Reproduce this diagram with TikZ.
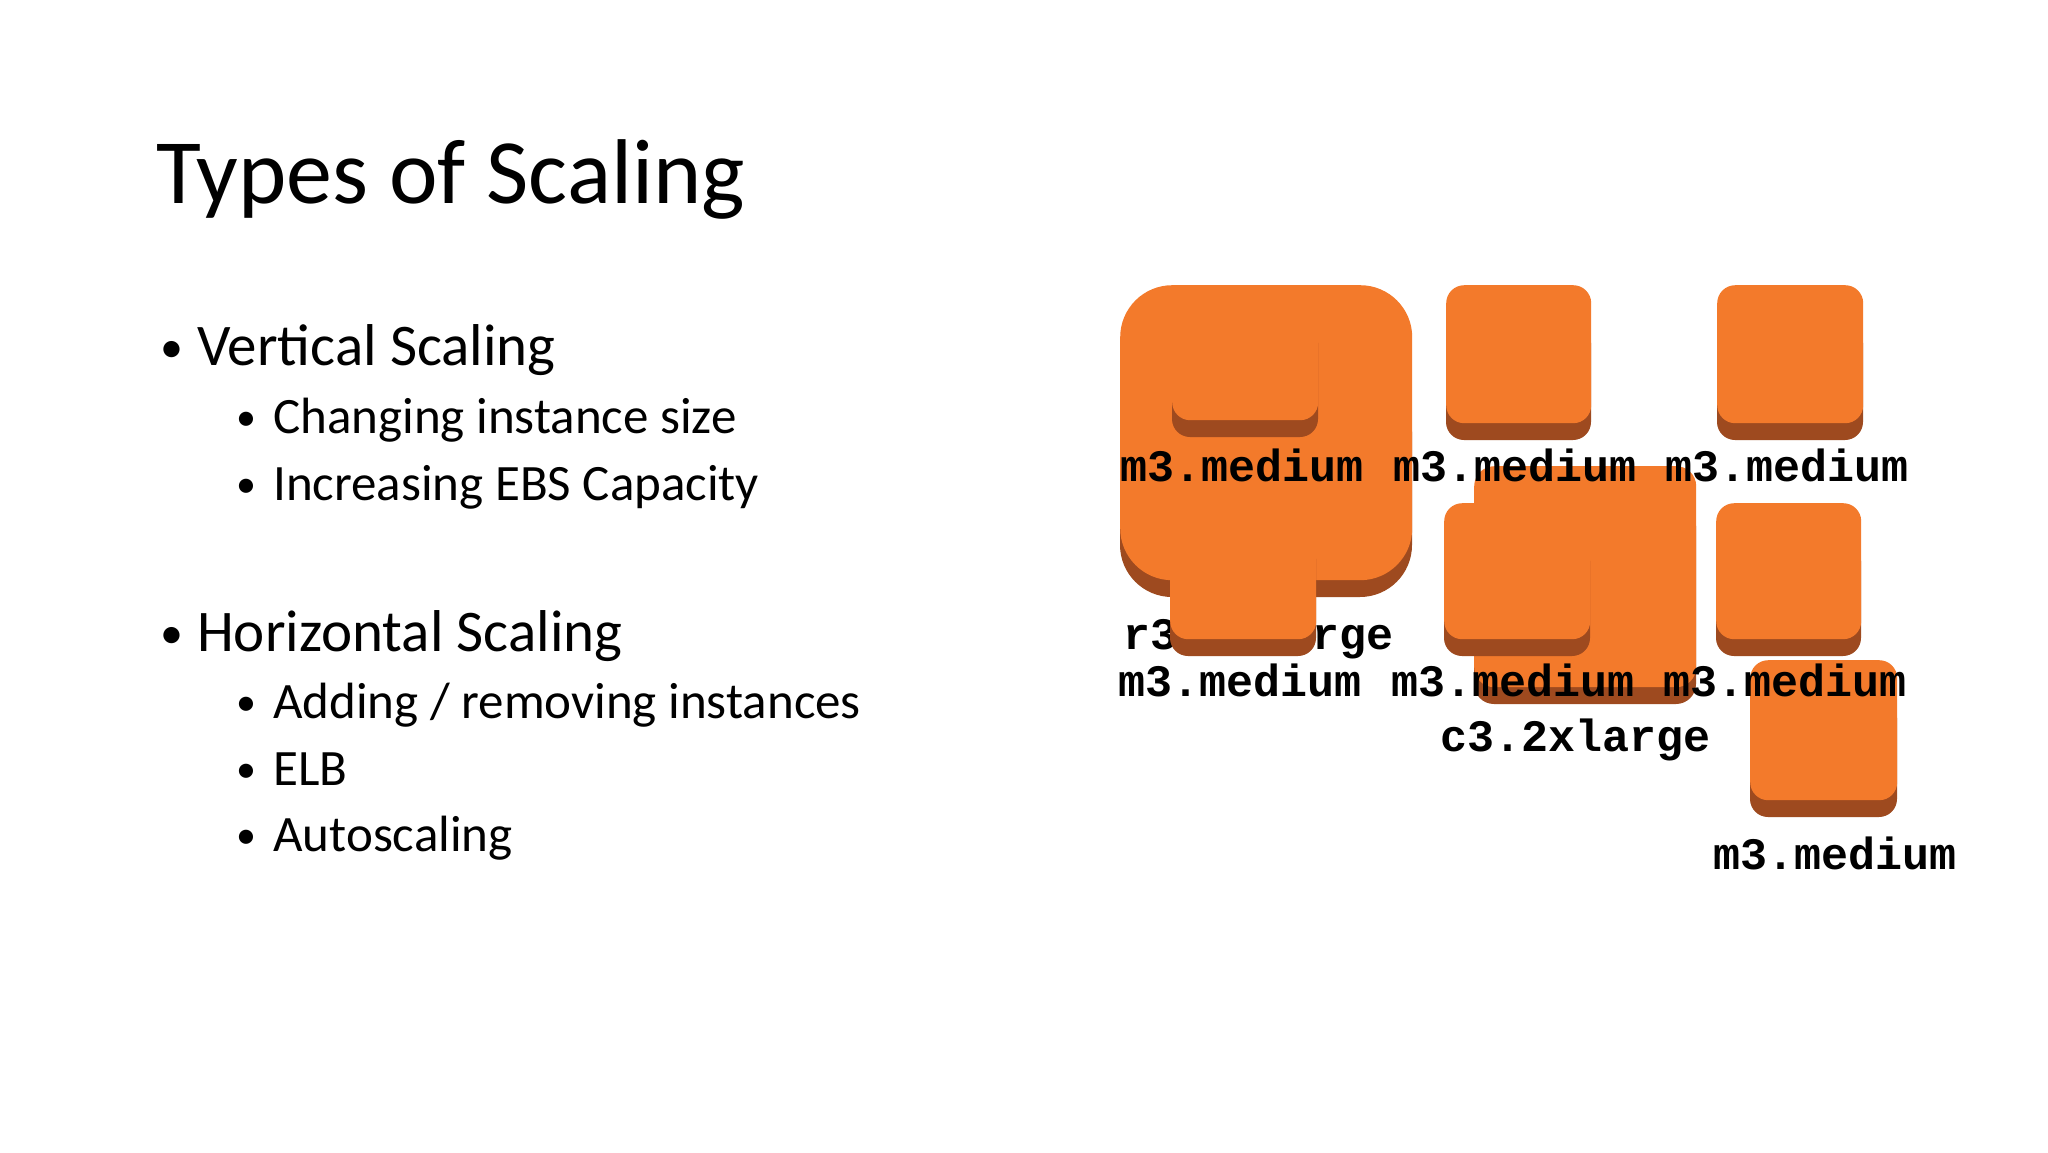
\documentclass[tikz,border=0pt]{standalone}
\usepackage{fontspec}
\setmainfont{Carlito}
\newfontfamily\monob{Liberation Mono}
\definecolor{awsor}{HTML}{F37A2B}
\definecolor{awssh}{HTML}{9E4A1F}
\newcommand\instbox[6]{%
  \fill[awssh,rounded corners=#6pt] (#2,#3+40) rectangle (#4,#5);
  \node[fill=awsor,rounded corners=#6pt,inner sep=0pt,minimum width=#4pt-#2pt,minimum height=#5pt-#3pt-17pt,anchor=north west] (#1) at (#2,#3) {};}
\tikzset{lbl/.style={font=\monob\fontsize{45}{45}\selectfont\bfseries,inner sep=0pt,anchor=base west},
 sub/.style={font=\fontsize{51}{55}\selectfont,inner sep=0pt,anchor=base west},
 top/.style={font=\fontsize{59}{62}\selectfont,inner sep=0pt,anchor=base west},
 subb/.style={font=\fontsize{40}{44}\selectfont,inner sep=0pt,anchor=base west},
 topb/.style={font=\fontsize{46}{50}\selectfont,inner sep=0pt,anchor=base west}}
\begin{document}
\begin{tikzpicture}[x=1pt,y=-1pt]
\useasboundingbox[fill=white] (0,0) rectangle (2048,1152);
\node[font=\fontsize{92}{96}\selectfont,inner sep=0pt,anchor=base west] (title) at (156,203) {Types of Scaling};
\node[topb] (b1) at (160,362) {•};
\node[top] (v) at (197,365) {Vertical Scaling};
\node[subb] (b2) at (236,430) {•}; \node[sub] (v1) at (273,433) {Changing instance size};
\node[subb] (b3) at (236,497) {•}; \node[sub] (v2) at (273,500) {Increasing EBS Capacity};
\node[topb] (b4) at (160,648) {•};
\node[top] (h) at (197,651) {Horizontal Scaling};
\node[subb] (b5) at (236,715) {•}; \node[sub] (h1) at (273,718) {Adding / removing instances};
\node[subb] (b6) at (236,782) {•}; \node[sub] (h2) at (273,785) {ELB};
\node[subb] (b7) at (236,848) {•}; \node[sub] (h3) at (273,851) {Autoscaling};
% boxes
\fill[awssh,rounded corners=52pt] (1120,380) rectangle (1412,597);
\node[fill=awsor,rounded corners=52pt,inner sep=0pt,minimum width=292pt,minimum height=295pt,anchor=north west] (r3) at (1120,285) {};
\instbox{mA}{1172}{285}{1318}{437}{18}
\instbox{mB}{1446}{285}{1591}{440}{18}
\instbox{mC}{1717}{285}{1863}{440}{18}
\instbox{cbig}{1474}{466}{1696}{704}{20}
\instbox{mE}{1444}{503}{1590}{656}{18}
\instbox{mF}{1716}{503}{1861}{656}{18}
\node[lbl] (lr3) at (1123,649) {r3.2xlarge};
\instbox{mD}{1170}{501}{1316}{656}{18}
\instbox{mG}{1750}{660}{1897}{817}{18}
\node[lbl] (l1) at (1120,481) {m3.medium};
\node[lbl] (l2) at (1393,481) {m3.medium};
\node[lbl] (l3) at (1665,481) {m3.medium};
\node[lbl] (l4) at (1118,696) {m3.medium};
\node[lbl] (l5) at (1391,696) {m3.medium};
\node[lbl] (l6) at (1663,696) {m3.medium};
\node[lbl] (lc3) at (1440,751) {c3.2xlarge};
\node[lbl] (l7) at (1713,869) {m3.medium};
\end{tikzpicture}
\end{document}
